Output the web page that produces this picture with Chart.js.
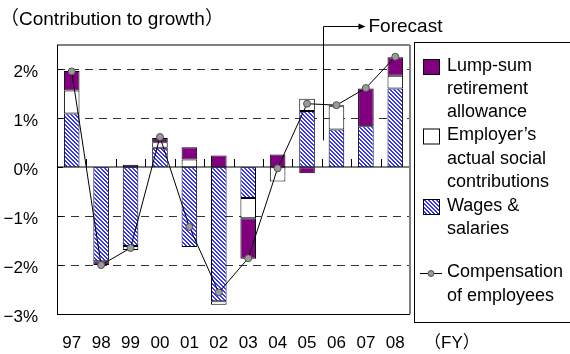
<!DOCTYPE html>
<html>
<head>
<meta charset="utf-8">
<script src="https://cdn.jsdelivr.net/npm/chart.js@4/dist/chart.umd.min.js"></script>
<style>
  html, body { margin: 0; padding: 0; background: #fff; }
  #wrap { width: 570px; height: 354px; position: relative; }
</style>
</head>
<body>
<div id="wrap"><canvas id="c" width="570" height="354"></canvas></div>
<script>
// Fiscal years
const categories = ['97', '98', '99', '00', '01', '02', '03', '04', '05', '06', '07', '08'];
// Contributions to growth of compensation (percentage points)
const wages = [1.10, -1.92, -1.61, 0.40, -1.63, -2.74, -0.63, 0.00, 1.15, 0.77, 0.84, 1.61];
const employerSocial = [0.47, 0.00, -0.08, 0.11, 0.16, -0.07, -0.41, -0.29, 0.25, 0.48, 0.00, 0.26];
const lumpSum = [0.40, -0.08, 0.05, 0.09, 0.25, 0.24, -0.83, 0.26, -0.12, 0.02, 0.77, 0.38];
// Compensation of employees, y/y % change
const compensation = [1.96, -2.00, -1.65, 0.62, -1.22, -2.56, -1.86, -0.02, 1.30, 1.27, 1.62, 2.26];
// Axis ticks
const yTicks = [-3, -2, -1, 0, 1, 2];
const dashedGrid = [-2, -1, 1, 2];

const FONT = "'Liberation Sans', 'Noto Sans CJK JP', Arial, sans-serif";
const PURPLE = '#800080';

// Blue diagonal hatch used for wages & salaries
function hatch() {
  const p = document.createElement('canvas');
  p.width = 4; p.height = 4;
  const g = p.getContext('2d');
  g.fillStyle = '#ffffff';
  g.fillRect(0, 0, 4, 4);
  g.fillStyle = '#3535ff';
  for (let i = 0; i < 4; i++) {
    g.fillRect(i, i, 1, 1);
    g.fillRect((i + 1) % 4, i, 1, 1);
  }
  return g.createPattern(p, 'repeat');
}
const HATCH = hatch();

function fmtPct(v) {
  return (v < 0 ? '\u2212' : '') + Math.abs(v) + '%';
}

function seg(ctx, x1, y1, x2, y2) {
  ctx.beginPath();
  ctx.moveTo(x1, y1);
  ctx.lineTo(x2, y2);
  ctx.stroke();
}

// Grid, frame, forecast marker, title and legend
const decorations = {
  id: 'decorations',
  beforeDatasetsDraw(chart) {
    const { ctx, chartArea: a, scales: { x, y } } = chart;
    ctx.save();
    ctx.lineWidth = 1;
    ctx.strokeStyle = '#333';
    ctx.setLineDash([8, 6]);
    dashedGrid.forEach(v => {
      const py = Math.round(y.getPixelForValue(v)) + 0.5;
      seg(ctx, a.left, py, a.right, py);
    });
    ctx.setLineDash([]);
    // zero line
    const zy = Math.round(y.getPixelForValue(0));
    ctx.strokeStyle = '#808080';
    ctx.lineWidth = 2;
    seg(ctx, a.left, zy, a.right, zy);
    // category separators on the zero line
    ctx.strokeStyle = '#000';
    ctx.lineWidth = 1;
    for (let i = 0; i < categories.length - 1; i++) {
      const px = Math.round(x.getPixelForValue(i + 0.5)) + 0.5;
      seg(ctx, px, zy - 8, px, zy);
    }
    ctx.restore();
  },
  afterDraw(chart) {
    const { ctx, chartArea: a, scales: { x, y } } = chart;
    ctx.save();
    // frame
    ctx.strokeStyle = '#808080';
    ctx.lineWidth = 2;
    seg(ctx, a.left, a.top, a.right, a.top);
    seg(ctx, a.right, a.top, a.right, a.bottom);
    ctx.strokeStyle = '#000';
    ctx.lineWidth = 1;
    seg(ctx, a.left, a.bottom + 0.5, a.right, a.bottom + 0.5);
    seg(ctx, a.left + 0.5, a.top, a.left + 0.5, a.bottom);
    yTicks.forEach(v => {
      const py = Math.round(y.getPixelForValue(v)) + 0.5;
      seg(ctx, a.left, py, a.left + 6, py);
    });

    // forecast marker between FY05 and FY06
    const fx = Math.round(x.getPixelForValue(8.5)) + 1.5;
    const fy = 26.5;
    ctx.strokeStyle = '#000';
    ctx.lineWidth = 1;
    ctx.beginPath();
    ctx.moveTo(fx, y.getPixelForValue(0.55));
    ctx.lineTo(fx, fy);
    ctx.lineTo(fx + 36, fy);
    ctx.stroke();
    ctx.fillStyle = '#000';
    ctx.beginPath();
    ctx.moveTo(fx + 42, fy);
    ctx.lineTo(fx + 35, fy - 3);
    ctx.lineTo(fx + 35, fy + 3);
    ctx.closePath();
    ctx.fill();
    ctx.font = '19px ' + FONT;
    ctx.textBaseline = 'middle';
    ctx.textAlign = 'left';
    ctx.fillText('Forecast', fx + 45, fy);

    // titles
    ctx.fillText('\uFF08Contribution to growth\uFF09', 0, 20);
    ctx.font = '17px ' + FONT;
    ctx.fillText('\uFF08FY\uFF09', 424, 343);

    // legend
    ctx.strokeStyle = '#000';
    ctx.lineWidth = 1;
    ctx.strokeRect(414.5, 42.5, 180, 280);
    ctx.font = '18px ' + FONT;
    ctx.fillStyle = '#000';
    const tx = 447;
    const ds = chart.data.datasets;
    const entries = [
      { d: ds[2], lines: ['Lump-sum', 'retirement', 'allowance'], ys: [66, 89.5, 112.5] },
      { d: ds[1], lines: ['Employer\u2019s', 'actual social', 'contributions'], ys: [135.5, 159, 182.5] },
      { d: ds[0], lines: ['Wages &', 'salaries'], ys: [206, 229] },
      { d: ds[3], lines: ['Compensation', 'of employees'], ys: [272.5, 296] }
    ];
    entries.forEach(e => {
      const cy = e.ys[0] + 1;
      if (e.d.type === 'line') {
        ctx.strokeStyle = '#000';
        seg(ctx, 420, cy, 442, cy);
        ctx.beginPath();
        ctx.arc(431, cy, 3, 0, Math.PI * 2);
        ctx.fillStyle = e.d.pointBackgroundColor;
        ctx.fill();
        ctx.strokeStyle = e.d.pointBorderColor;
        ctx.stroke();
      } else {
        ctx.fillStyle = e.d.backgroundColor;
        ctx.fillRect(423, cy - 8, 17, 16);
        ctx.strokeStyle = '#000';
        ctx.strokeRect(423.5, cy - 7.5, 16, 15);
      }
      ctx.fillStyle = '#000';
      e.lines.forEach((t, i) => ctx.fillText(t, tx, e.ys[i]));
    });
    ctx.restore();
  }
};

const barCommon = {
  type: 'bar',
  borderColor: '#000',
  borderWidth: 1,
  borderSkipped: false,
  barPercentage: 0.53,
  categoryPercentage: 1,
  order: 1
};

new Chart(document.getElementById('c'), {
  data: {
    labels: categories,
    datasets: [
      { ...barCommon, label: 'Wages & salaries', data: wages, backgroundColor: HATCH },
      { ...barCommon, label: 'Employer\u2019s actual social contributions', data: employerSocial, backgroundColor: '#ffffff' },
      { ...barCommon, label: 'Lump-sum retirement allowance', data: lumpSum, backgroundColor: PURPLE },
      {
        type: 'line',
        label: 'Compensation of employees',
        data: compensation,
        borderColor: '#000',
        borderWidth: 1,
        pointRadius: 3.5,
        pointBackgroundColor: '#9a9a9a',
        pointBorderColor: '#505050',
        pointBorderWidth: 1,
        tension: 0,
        order: 0
      }
    ]
  },
  options: {
    responsive: false,
    animation: false,
    devicePixelRatio: 1,
    layout: { padding: { top: 45, right: 160, left: 0, bottom: 0 } },
    plugins: { legend: { display: false }, tooltip: { enabled: false }, title: { display: false } },
    scales: {
      x: {
        stacked: true,
        offset: true,
        grid: { display: false, drawTicks: false },
        border: { display: false },
        ticks: { color: '#000', font: { family: FONT, size: 17 }, padding: 19, maxRotation: 0, autoSkip: false },
        afterFit(s) { s.height = 40; }
      },
      y: {
        stacked: true,
        min: -3,
        max: 2.5,
        afterBuildTicks(s) { s.ticks = yTicks.map(v => ({ value: v })); },
        grid: { display: false, drawTicks: false },
        border: { display: false },
        ticks: { color: '#000', font: { family: FONT, size: 17 }, padding: 19, labelOffset: 3, callback: v => fmtPct(v) },
        afterFit(s) { s.width = 57; }
      }
    }
  },
  plugins: [decorations]
});
</script>
</body>
</html>
